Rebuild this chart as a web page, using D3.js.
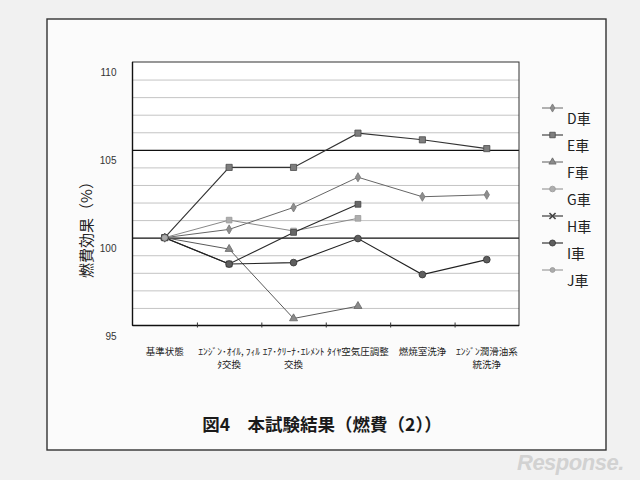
<!DOCTYPE html>
<html><head><meta charset="utf-8">
<script src="https://cdn.jsdelivr.net/npm/d3@7"></script>
<style>
html,body{margin:0;padding:0;background:#f1f1f1;}
svg{display:block;}
</style></head>
<body>
<svg id="c" width="640" height="480"></svg>
<script>
// ---- data ----
const categories = ["基準状態","ｴﾝｼﾞﾝ･ｵｲﾙ,ﾌｨﾙﾀ交換","ｴｱ･ｸﾘｰﾅ･ｴﾚﾒﾝﾄ交換","ﾀｲﾔ空気圧調整","燃焼室洗浄","ｴﾝｼﾞﾝ潤滑油系統洗浄"];
const categoryLines = [["基準状態"],["ｴﾝｼﾞﾝ･ｵｲﾙ, ﾌｨﾙ","ﾀ交換"],["ｴｱ･ｸﾘｰﾅ･ｴﾚﾒﾝﾄ","交換"],["ﾀｲﾔ空気圧調整"],["燃焼室洗浄"],["ｴﾝｼﾞﾝ潤滑油系","統洗浄"]];
const seriesNames = ["D車","E車","F車","G車","H車","I車","J車"];
const valuesD = [100, 100.47, 101.72, 103.44, 102.33, 102.44];
const valuesE = [100, 104.0, 104.0, 105.95, 105.57, 105.07];
const valuesF = [100, 99.35, 95.4, 96.1, null, null];
const valuesG = [100, 101.0, 100.38, 101.1, null, null];
const valuesH = [100, 98.5, 100.3, 101.9, null, null];
const valuesI = [100, 98.5, 98.58, 99.95, 97.9, 98.75];
const valuesJ = [100, null, null, null, null, null];
const yTickLabels = [95, 100, 105, 110];
const title = "図4　本試験結果（燃費（2））";
const yTitle = "燃費効果（%）";

const allValues = [valuesD, valuesE, valuesF, valuesG, valuesH, valuesI, valuesJ];
const styles = [
  {line:"#666",    w:1,   sym:d3.symbolDiamond, size:24, fill:"#8e8e8e", stroke:"#777"},
  {line:"#333",    w:1.1, sym:d3.symbolSquare,  size:38, fill:"#7e7e7e", stroke:"#4a4a4a"},
  {line:"#5a5a5a", w:1,   sym:d3.symbolTriangle,size:28, fill:"#8a8a8a", stroke:"#666"},
  {line:"#888",    w:1,   sym:d3.symbolSquare,  size:32, fill:"#aeaeae", stroke:"#999"},
  {line:"#2a2a2a", w:1.1, sym:d3.symbolSquare,  size:34, fill:"#686868", stroke:"#444"},
  {line:"#222",    w:1.1, sym:d3.symbolCircle,  size:36, fill:"#5e5e5e", stroke:"#333"},
  {line:"#8a8a8a", w:1,   sym:d3.symbolCircle,  size:24, fill:"#aaa",    stroke:"#999"}
];
const legendSyms = [d3.symbolDiamond, d3.symbolSquare, d3.symbolTriangle, d3.symbolCircle, d3.symbolTimes, d3.symbolCircle, d3.symbolCircle];

const svg = d3.select("#c");
const JP = "'Noto Sans CJK JP','Noto Sans',sans-serif";

// outer frame
svg.append("rect").attr("x",47).attr("y",19).attr("width",559).attr("height",431)
  .attr("fill","#fbfbfb").attr("stroke","#333").attr("stroke-width",1.4);

const L = 132.5, R = 519, T = 62, B = 325.5;
const x = d3.scaleBand().domain(categories).range([L, R]).padding(0);
const xb = d3.scaleLinear().domain([0, categories.length]).range([L, R]);
const y = d3.scaleLinear().domain([95, 110]).range([B, T]);

svg.append("rect").attr("x",L).attr("y",T).attr("width",R-L).attr("height",B-T).attr("fill","#fff");

// minor gridlines
svg.append("g").attr("transform",`translate(${L},0)`)
  .call(d3.axisLeft(y).tickValues(d3.range(96,110).filter(v=>v!==100&&v!==105)).tickSize(-(R-L)).tickFormat(""))
  .call(g=>{g.select(".domain").remove(); g.selectAll("line").attr("stroke","#c4c4c4").attr("stroke-width",1);});
// major gridlines
svg.append("g").attr("transform",`translate(${L},0)`)
  .call(d3.axisLeft(y).tickValues([100,105]).tickSize(-(R-L)).tickFormat(""))
  .call(g=>{g.select(".domain").remove(); g.selectAll("line").attr("stroke","#111").attr("stroke-width",1.4);});

// plot border
svg.append("rect").attr("x",L).attr("y",T).attr("width",R-L).attr("height",B-T)
  .attr("fill","none").attr("stroke","#333").attr("stroke-width",1);
svg.append("line").attr("x1",L).attr("x2",L).attr("y1",T).attr("y2",B).attr("stroke","#111").attr("stroke-width",1.4);
svg.append("line").attr("x1",L).attr("x2",R).attr("y1",B).attr("y2",B).attr("stroke","#111").attr("stroke-width",1.4);

// y tick labels
svg.append("g").attr("transform",`translate(${L},0)`)
  .call(d3.axisLeft(y).tickValues(yTickLabels).tickSize(0).tickPadding(16))
  .call(g=>{g.select(".domain").remove();
    g.selectAll("text").attr("dy","1.35em").attr("font-family","'Liberation Sans',Arial,sans-serif")
     .attr("font-size",10).attr("fill","#333");});

// x boundary ticks
svg.append("g").attr("transform",`translate(0,${B})`)
  .call(d3.axisBottom(xb).tickValues(d3.range(1,categories.length)).tickSize(3).tickFormat(""))
  .call(g=>{g.select(".domain").remove(); g.selectAll("line").attr("stroke","#333").attr("transform","translate(0,-3)").attr("y2",5);});

// x labels
const xl = svg.append("g").attr("transform",`translate(0,${B})`)
  .call(d3.axisBottom(x).tickSize(0).tickFormat(""))
  .call(g=>g.select(".domain").remove());
xl.selectAll(".tick").each(function(d,i){
  const t = d3.select(this).append("text").attr("fill","#222").attr("font-family",JP).attr("font-size",9.5)
    .attr("text-anchor","middle");
  categoryLines[i].forEach((s,k)=>{
    t.append("tspan").attr("x",0).attr("y",29 + k*13).text(s);
  });
});

// y title
svg.append("text").attr("transform","translate(92,226) rotate(-90)").attr("text-anchor","middle")
  .attr("font-family",JP).attr("font-size",15).attr("fill","#222").text(yTitle);

// series
const cx = c => x(c) + x.bandwidth()/2;
allValues.forEach((vals,si)=>{
  const st = styles[si];
  const pts = vals.map((v,i)=>({c:categories[i], v}));
  const line = d3.line().defined(p=>p.v!=null).x(p=>cx(p.c)).y(p=>y(p.v));
  svg.append("path").datum(pts).attr("d",line).attr("fill","none")
    .attr("stroke",st.line).attr("stroke-width",st.w);
});
allValues.forEach((vals,si)=>{
  const st = styles[si];
  const pts = vals.map((v,i)=>({c:categories[i], v})).filter(p=>p.v!=null);
  svg.append("g").selectAll("path").data(pts).join("path")
    .attr("transform",p=>`translate(${cx(p.c)},${y(p.v)})`)
    .attr("d",d3.symbol(st.sym, st.size))
    .attr("fill",st.fill).attr("stroke",st.stroke).attr("stroke-width",0.8);
});

// legend
const lg = svg.append("g").attr("transform","translate(542,108)");
seriesNames.forEach((n,i)=>{
  const st = styles[i];
  const g = lg.append("g").attr("transform",`translate(0,${i*27})`);
  g.append("line").attr("x1",0).attr("x2",21).attr("y1",0).attr("y2",0).attr("stroke",st.line).attr("stroke-width",st.w);
  const sym = legendSyms[i];
  g.append("path").attr("transform","translate(10.5,0)").attr("d",d3.symbol(sym, sym===d3.symbolTimes?26:st.size*0.8))
    .attr("fill",sym===d3.symbolTimes?"none":st.fill).attr("stroke",sym===d3.symbolTimes?"#444":st.stroke)
    .attr("stroke-width",sym===d3.symbolTimes?1.6:0.8);
  g.append("text").attr("x",25).attr("y",16).attr("font-family",JP).attr("font-size",14).attr("fill","#222").text(n);
});

// title
svg.append("text").attr("x",322).attr("y",431).attr("text-anchor","middle").attr("font-family",JP)
  .attr("font-weight","bold").attr("font-size",17.5).attr("fill","#1a1a1a").text(title);

// watermark
svg.append("text").attr("x",517).attr("y",470).attr("font-family","'Liberation Sans',Arial,sans-serif")
  .attr("font-style","italic").attr("font-weight","bold").attr("font-size",22).attr("fill","#d2d2d2")
  .attr("letter-spacing",-0.5).text("Response.");
</script>
</body></html>
